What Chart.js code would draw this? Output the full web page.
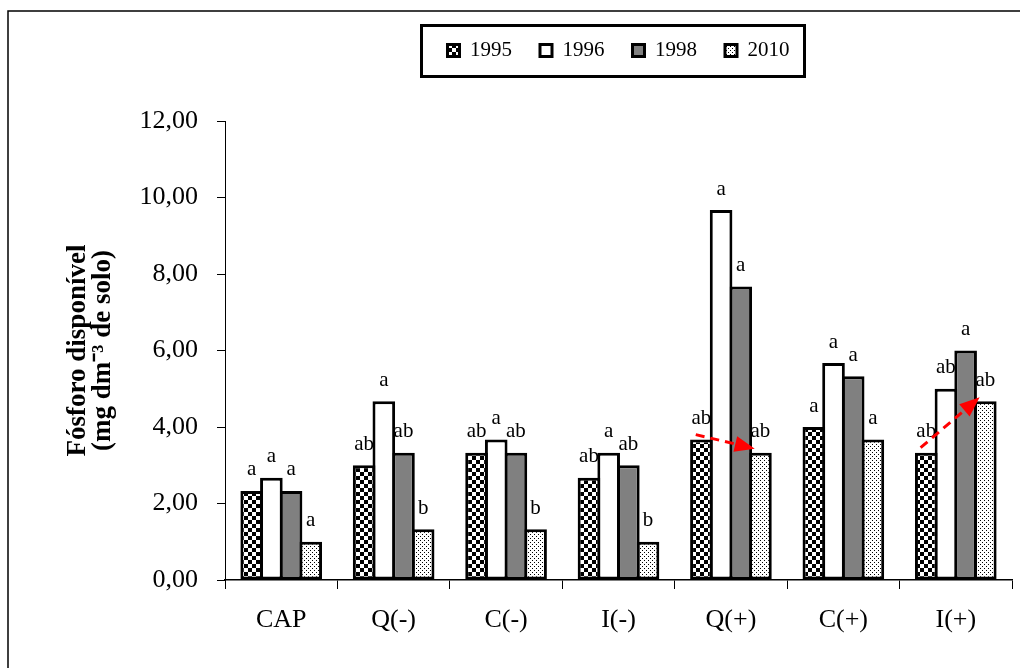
<!DOCTYPE html>
<html>
<head>
<meta charset="utf-8">
<script src="https://cdn.jsdelivr.net/npm/chart.js@4.4.1/dist/chart.umd.min.js"></script>
<style>
html, body { margin: 0; padding: 0; background: #fff; }
</style>
</head>
<body>
<canvas id="graph" width="1020" height="668"></canvas>
<script>
//------------ data ----------//
var categories = ["CAP", "Q(-)", "C(-)", "I(-)", "Q(+)", "C(+)", "I(+)"];
var years = ["1995", "1996", "1998", "2010"];

var values_1995 = [2.33, 3.00, 3.33, 2.67, 3.67, 4.00, 3.33];
var values_1996 = [2.67, 4.67, 3.67, 3.33, 9.67, 5.67, 5.00];
var values_1998 = [2.33, 3.33, 3.33, 3.00, 7.67, 5.33, 6.00];
var values_2010 = [1.00, 1.33, 1.33, 1.00, 3.33, 3.67, 4.67];

var letters_1995 = ["a", "ab", "ab", "ab", "ab", "a", "ab"];
var letters_1996 = ["a", "a", "a", "a", "a", "a", "ab"];
var letters_1998 = ["a", "ab", "ab", "ab", "a", "a", "a"];
var letters_2010 = ["a", "b", "b", "b", "ab", "a", "ab"];

var y_min = 0;
var y_max = 12;
var y_step = 2;

// red dashed arrows: category index, from series, to series
var arrows = [
  { category: 4, from: 0, to: 3 },
  { category: 6, from: 0, to: 3 }
];

var serif = '"Liberation Serif", "Times New Roman", serif';

//------------ patterns ----------//
var canvas = document.getElementById("graph");
var ctx = canvas.getContext("2d");

function checkerPattern() {
  var c = document.createElement("canvas");
  c.width = 8; c.height = 8;
  var g = c.getContext("2d");
  g.fillStyle = "#fff"; g.fillRect(0, 0, 8, 8);
  g.fillStyle = "#000"; g.fillRect(0, 0, 4, 4); g.fillRect(4, 4, 4, 4);
  return ctx.createPattern(c, "repeat");
}

function dotPattern() {
  var c = document.createElement("canvas");
  c.width = 4; c.height = 4;
  var g = c.getContext("2d");
  g.fillStyle = "#fff"; g.fillRect(0, 0, 4, 4);
  g.fillStyle = "#000"; g.fillRect(0, 0, 1, 1); g.fillRect(2, 2, 1, 1);
  return ctx.createPattern(c, "repeat");
}

//------------ plugins ----------//
var framePlugin = {
  id: "frame",
  beforeDraw: function (chart) {
    var c = chart.ctx;
    c.save();
    c.fillStyle = "#fff";
    c.fillRect(0, 0, chart.width, chart.height);
    c.strokeStyle = "#000";
    c.lineWidth = 1.5;
    c.strokeRect(8, 11, chart.width + 50, chart.height + 50);
    c.restore();
  },
  afterDraw: function (chart) {
    var hb = chart.legend.legendHitBoxes;
    if (!hb || !hb.length) return;
    var first = hb[0], last = hb[hb.length - 1];
    var left = first.left - 26;
    var right = last.left + last.width + 15;
    var cy = first.top + first.height / 2;
    var c = chart.ctx;
    c.save();
    c.strokeStyle = "#000";
    c.lineWidth = 3;
    c.strokeRect(left, cy - 25, right - left, 51);
    c.restore();
  }
};

var letterPlugin = {
  id: "letters",
  afterDatasetsDraw: function (chart) {
    var c = chart.ctx;
    c.save();
    c.font = "21px " + serif;
    c.fillStyle = "#000";
    c.textAlign = "center";
    c.textBaseline = "middle";
    chart.data.datasets.forEach(function (ds, d) {
      var meta = chart.getDatasetMeta(d);
      meta.data.forEach(function (bar, i) {
        c.fillText(ds.letters[i], bar.x, bar.y - 21);
      });
    });

    // arrows
    arrows.forEach(function (a) {
      var b0 = chart.getDatasetMeta(a.from).data[a.category];
      var b1 = chart.getDatasetMeta(a.to).data[a.category];
      var x0 = b0.x - b0.width / 4, y0 = b0.y - 5;
      var x1 = b1.x - b1.width / 4, y1 = b1.y - 4;
      var ang = Math.atan2(y1 - y0, x1 - x0);
      var head = 20, half = 8;
      var bx = x1 - head * Math.cos(ang), by = y1 - head * Math.sin(ang);
      c.strokeStyle = "#ff0000";
      c.fillStyle = "#ff0000";
      c.lineWidth = 3;
      c.setLineDash([9, 6]);
      c.beginPath();
      c.moveTo(x0, y0);
      c.lineTo(bx, by);
      c.stroke();
      c.setLineDash([]);
      c.beginPath();
      c.moveTo(x1, y1);
      c.lineTo(bx + half * Math.sin(ang), by - half * Math.cos(ang));
      c.lineTo(bx - half * Math.sin(ang), by + half * Math.cos(ang));
      c.closePath();
      c.fill();
    });
    c.restore();
  }
};

//------------ chart ----------//
var fills = [checkerPattern(), "#ffffff", "#808080", dotPattern()];
var series = [values_1995, values_1996, values_1998, values_2010];
var letters = [letters_1995, letters_1996, letters_1998, letters_2010];

var datasets = [];
for (var s = 0; s < years.length; s++) {
  datasets.push({
    label: years[s],
    data: series[s],
    letters: letters[s],
    backgroundColor: fills[s],
    borderColor: "#000",
    borderWidth: 3,
    borderSkipped: false,
    categoryPercentage: 0.70,
    barPercentage: 1.15
  });
}

var myChart = new Chart(ctx, {
  type: "bar",
  data: { labels: categories, datasets: datasets },
  plugins: [framePlugin, letterPlugin],
  options: {
    responsive: false,
    animation: false,
    devicePixelRatio: 1,
    layout: { padding: { top: 12, left: 40, right: 8, bottom: 0 } },
    plugins: {
      tooltip: { enabled: false },
      legend: {
        position: "top",
        fullSize: false,
        labels: {
          color: "#000",
          font: { family: serif, size: 21 },
          boxWidth: 12,
          boxHeight: 12,
          padding: 28
        }
      },
      title: {
        display: true,
        text: " ",
        position: "top",
        weight: 500,
        fullSize: false,
        font: { size: 10, lineHeight: 1 },
        padding: { top: 40, bottom: 0 }
      }
    },
    scales: {
      x: {
        afterFit: function (scale) { scale.height = 88; },
        grid: {
          display: true,
          drawOnChartArea: false,
          drawTicks: true,
          tickLength: 9,
          color: "#000",
          lineWidth: 1
        },
        border: { display: true, color: "#000", width: 1.5 },
        ticks: {
          color: "#000",
          padding: 16,
          font: { family: serif, size: 26 }
        }
      },
      y: {
        min: y_min,
        max: y_max,
        afterFit: function (scale) { scale.width = 185; },
        grid: {
          display: true,
          drawOnChartArea: false,
          drawTicks: true,
          tickLength: 8,
          color: "#000",
          lineWidth: 1
        },
        border: { display: true, color: "#000", width: 1 },
        ticks: {
          stepSize: y_step,
          color: "#000",
          padding: 19,
          font: { family: serif, size: 26 },
          callback: function (v) { return v.toFixed(2).replace(".", ","); }
        },
        title: {
          display: true,
          text: ["Fósforo disponível", "(mg dm⁻³ de solo)"],
          color: "#000",
          font: { family: serif, size: 27, weight: "bold", lineHeight: 0.93 },
          padding: { top: 25, bottom: 0 }
        }
      }
    }
  }
});
</script>
</body>
</html>
